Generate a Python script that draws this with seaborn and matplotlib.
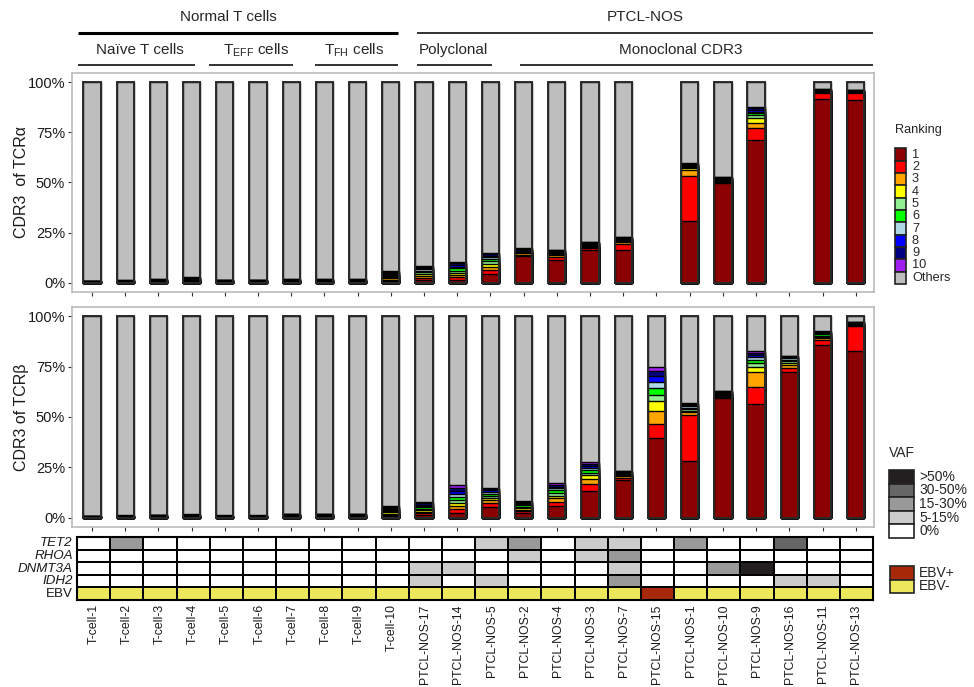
import numpy as np
import pandas as pd
import seaborn as sns
import matplotlib
matplotlib.use("Agg")
import matplotlib.pyplot as plt
from matplotlib.colors import ListedColormap
from matplotlib.patches import Rectangle
from matplotlib.lines import Line2D

nan = np.nan

samples = ["T-cell-1", "T-cell-2", "T-cell-3", "T-cell-4", "T-cell-5", "T-cell-6",
           "T-cell-7", "T-cell-8", "T-cell-9", "T-cell-10",
           "PTCL-NOS-17", "PTCL-NOS-14", "PTCL-NOS-5", "PTCL-NOS-2", "PTCL-NOS-4",
           "PTCL-NOS-3", "PTCL-NOS-7", "PTCL-NOS-15", "PTCL-NOS-1", "PTCL-NOS-10",
           "PTCL-NOS-9", "PTCL-NOS-16", "PTCL-NOS-11", "PTCL-NOS-13"]

rank_labels = ["1", "2", "3", "4", "5", "6", "7", "8", "9", "10", "Others"]
rank_colors = ["#8B0000", "#FF0000", "#FFA500", "#FFFF00", "#90EE90", "#00FF00",
               "#ADD8E6", "#0000FF", "#000080", "#A020F0", "#BEBEBE"]

# CDR3 of TCR alpha: frequency (%) of the top-10 clonotypes per sample
a_r1 = [0.20, 0.25, 0.35, 0.55, 0.30, 0.28, 0.33, 0.36, 0.31, 0.90, 1.5, 1.6, 4.5, 13.3, 11.6, 16.6, 16.6, nan, 30.7, 49.8, 71.0, nan, 91.5, 91.0]
a_r2 = [0.16, 0.18, 0.26, 0.40, 0.22, 0.21, 0.27, 0.25, 0.26, 0.75, 1.2, 1.3, 2.0, 0.8, 1.5, 0.8, 2.8, nan, 22.7, 0.6, 6.0, nan, 3.0, 3.5]
a_r3 = [0.14, 0.16, 0.23, 0.33, 0.19, 0.18, 0.22, 0.22, 0.23, 0.65, 1.0, 1.2, 1.6, 0.6, 0.7, 0.6, 0.8, nan, 2.8, 0.5, 2.8, nan, 0.5, 0.4]
a_r4 = [0.13, 0.14, 0.20, 0.29, 0.17, 0.16, 0.21, 0.20, 0.21, 0.60, 0.9, 1.1, 1.4, 0.5, 0.6, 0.5, 0.6, nan, 1.0, 0.4, 2.5, nan, 0.4, 0.3]
a_r5 = [0.12, 0.13, 0.19, 0.27, 0.16, 0.15, 0.19, 0.19, 0.20, 0.55, 0.8, 1.0, 1.2, 0.5, 0.5, 0.45, 0.5, nan, 0.6, 0.35, 1.2, nan, 0.3, 0.2]
a_r6 = [0.11, 0.12, 0.17, 0.24, 0.15, 0.14, 0.18, 0.18, 0.18, 0.55, 0.8, 1.0, 1.1, 0.4, 0.4, 0.4, 0.45, nan, 0.5, 0.3, 1.0, nan, 0.2, 0.2]
a_r7 = [0.10, 0.11, 0.16, 0.22, 0.14, 0.13, 0.16, 0.16, 0.17, 0.52, 0.7, 0.9, 0.9, 0.4, 0.35, 0.35, 0.4, nan, 0.4, 0.25, 0.8, nan, 0.2, 0.1]
a_r8 = [0.09, 0.11, 0.15, 0.21, 0.13, 0.12, 0.15, 0.15, 0.15, 0.50, 0.6, 0.9, 0.8, 0.35, 0.3, 0.3, 0.35, nan, 0.3, 0.2, 0.8, nan, 0.1, 0.1]
a_r9 = [0.08, 0.10, 0.15, 0.20, 0.12, 0.12, 0.15, 0.15, 0.15, 0.50, 0.6, 0.8, 0.7, 0.3, 0.25, 0.25, 0.3, nan, 0.3, 0.1, 0.8, nan, 0.1, 0.1]
a_r10 = [0.07, 0.10, 0.14, 0.19, 0.12, 0.11, 0.14, 0.14, 0.14, 0.48, 0.5, 0.8, 0.6, 0.25, 0.2, 0.25, 0.2, nan, 0.2, 0.1, 0.8, nan, 0.1, 0.1]

# CDR3 of TCR beta
b_r1 = [0.18, 0.20, 0.28, 0.30, 0.22, 0.19, 0.34, 0.32, 0.36, 0.80, 1.3, 2.3, 5.3, 2.3, 6.1, 13.5, 18.8, 39.5, 28.0, 59.4, 56.5, 72.2, 85.8, 82.5]
b_r2 = [0.15, 0.16, 0.21, 0.22, 0.16, 0.17, 0.26, 0.27, 0.27, 0.70, 0.9, 2.0, 1.9, 0.9, 2.0, 3.3, 1.2, 7.2, 23.1, 0.7, 8.2, 1.9, 2.4, 12.4]
b_r3 = [0.13, 0.14, 0.18, 0.19, 0.13, 0.14, 0.23, 0.23, 0.24, 0.65, 0.8, 1.7, 1.5, 0.8, 1.6, 2.5, 0.6, 6.2, 1.2, 0.5, 7.6, 1.7, 0.8, 0.5]
b_r4 = [0.12, 0.13, 0.16, 0.17, 0.12, 0.13, 0.20, 0.21, 0.22, 0.62, 0.8, 1.6, 1.2, 0.8, 1.4, 1.8, 0.5, 4.8, 0.9, 0.45, 2.6, 0.9, 0.7, 0.4]
b_r5 = [0.11, 0.12, 0.15, 0.16, 0.12, 0.12, 0.19, 0.19, 0.20, 0.60, 0.7, 1.5, 1.0, 0.7, 1.3, 1.3, 0.5, 3.4, 0.8, 0.4, 1.9, 0.8, 0.6, 0.4]
b_r6 = [0.10, 0.11, 0.14, 0.15, 0.11, 0.11, 0.18, 0.18, 0.19, 0.56, 0.7, 1.5, 1.0, 0.7, 1.2, 1.2, 0.4, 3.3, 0.7, 0.4, 1.5, 0.8, 0.6, 0.3]
b_r7 = [0.09, 0.10, 0.13, 0.14, 0.10, 0.10, 0.16, 0.16, 0.17, 0.54, 0.7, 1.4, 0.9, 0.6, 1.0, 1.1, 0.4, 3.0, 0.6, 0.35, 1.3, 0.7, 0.5, 0.2]
b_r8 = [0.08, 0.09, 0.12, 0.13, 0.09, 0.09, 0.15, 0.15, 0.16, 0.52, 0.7, 1.5, 0.8, 0.6, 0.9, 1.1, 0.3, 3.0, 0.6, 0.3, 1.2, 0.5, 0.4, 0.2]
b_r9 = [0.07, 0.08, 0.12, 0.12, 0.08, 0.08, 0.15, 0.15, 0.15, 0.51, 0.6, 1.4, 0.7, 0.6, 0.9, 1.1, 0.3, 2.5, 0.5, 0.25, 1.0, 0.5, 0.3, 0.2]
b_r10 = [0.07, 0.07, 0.11, 0.12, 0.07, 0.07, 0.14, 0.14, 0.14, 0.50, 0.6, 1.4, 0.7, 0.6, 0.8, 1.0, 0.3, 2.0, 0.4, 0.25, 1.0, 0.4, 0.3, 0.1]

# Mutation VAF classes: 0 = 0%, 1 = 5-15%, 2 = 15-30%, 3 = 30-50%, 4 = >50%
genes = ["TET2", "RHOA", "DNMT3A", "IDH2"]
tet2 = [0, 2, 0, 0, 0, 0, 0, 0, 0, 0, 0, 0, 1, 2, 0, 1, 1, 0, 2, 0, 0, 3, 0, 0]
rhoa = [0, 0, 0, 0, 0, 0, 0, 0, 0, 0, 0, 0, 0, 1, 0, 1, 2, 0, 0, 0, 0, 0, 0, 0]
dnmt3a = [0, 0, 0, 0, 0, 0, 0, 0, 0, 0, 1, 1, 0, 0, 0, 0, 1, 0, 0, 2, 4, 0, 0, 0]
idh2 = [0, 0, 0, 0, 0, 0, 0, 0, 0, 0, 1, 0, 1, 0, 0, 0, 2, 0, 0, 0, 0, 1, 1, 0]
ebv = ["EBV-", "EBV-", "EBV-", "EBV-", "EBV-", "EBV-", "EBV-", "EBV-", "EBV-", "EBV-",
       "EBV-", "EBV-", "EBV-", "EBV-", "EBV-", "EBV-", "EBV-", "EBV+", "EBV-", "EBV-",
       "EBV-", "EBV-", "EBV-", "EBV-"]

vaf_labels = [">50%", "30-50%", "15-30%", "5-15%", "0%"]
vaf_colors = ["#231F20", "#666666", "#999999", "#CCCCCC", "#FFFFFF"]
ebv_labels = ["EBV+", "EBV-"]
ebv_colors = ["#A8290A", "#EDE85B"]
ytick_vals = [0, 25, 50, 75, 100]
ytick_labels = ["0%", "25%", "50%", "75%", "100%"]

# ---------------------------------------------------------------- style
sns.set_style("white")
plt.rcParams["font.family"] = ["Liberation Sans", "DejaVu Sans"]
plt.rcParams["mathtext.fontset"] = "custom"
plt.rcParams["mathtext.rm"] = "Liberation Sans"

W, H = 974, 687
fig = plt.figure(figsize=(W / 100, H / 100), dpi=100)


def fx(px):
    return px / W


def fy(py):
    return 1 - py / H


def ax_rect(x0, y0, x1, y1):
    return [fx(x0), fy(y1), (x1 - x0) / W, (y1 - y0) / H]


ax_a = fig.add_axes(ax_rect(72, 73, 874, 292))
ax_b = fig.add_axes(ax_rect(72, 307, 874, 527))
ax_h = fig.add_axes(ax_rect(77, 537, 873, 600))


def stacked(ax, ranks, ylabel):
    freq = pd.DataFrame({f"r{k + 1}": r for k, r in enumerate(ranks)})
    cum = freq.cumsum(axis=1)
    present = freq["r1"].notna()
    others = pd.DataFrame({"sample": samples, "h": np.where(present, 100.0, np.nan)}).dropna()
    sns.barplot(data=others, x="sample", y="h", order=samples, color=rank_colors[10],
                saturation=1, width=0.52, edgecolor="black", linewidth=1.0,
                errorbar=None, ax=ax)
    for k in range(9, -1, -1):
        d = pd.DataFrame({"sample": samples, "h": cum.iloc[:, k]}).dropna()
        sns.barplot(data=d, x="sample", y="h", order=samples, color=rank_colors[k],
                    saturation=1, width=0.52, edgecolor="black", linewidth=1.0,
                    errorbar=None, ax=ax)
    sns.barplot(data=others, x="sample", y="h", order=samples, color="#2A2A2A",
                fill=False, width=0.52, linewidth=1.4, errorbar=None, ax=ax)
    ax.set_xlim(-0.6, 23.55)
    ax.set_ylim(-4.5, 104.5)
    ax.set_yticks(ytick_vals)
    ax.set_yticklabels(ytick_labels, fontsize=10.5, color="#1A1A1A")
    ax.set_xticks(range(len(samples)))
    ax.set_xticklabels([])
    ax.set_xlabel("")
    ax.set_ylabel(ylabel, fontsize=11.5, color="#1A1A1A")
    ax.tick_params(axis="both", length=3, width=0.8, color="#333333", pad=2,
                   bottom=True, left=True)
    for s in ax.spines.values():
        s.set_visible(True)
        s.set_color("#B5B5B5")
        s.set_linewidth(1.1)


stacked(ax_a, [a_r1, a_r2, a_r3, a_r4, a_r5, a_r6, a_r7, a_r8, a_r9, a_r10], "CDR3  of TCR\u03b1")
stacked(ax_b, [b_r1, b_r2, b_r3, b_r4, b_r5, b_r6, b_r7, b_r8, b_r9, b_r10], "CDR3 of TCR\u03b2")
ax_a.yaxis.set_label_coords(-0.053, 0.5)
ax_b.yaxis.set_label_coords(-0.053, 0.5)

# ---------------------------------------------------------------- heatmap
ebv_code = [5 if e == "EBV-" else 6 for e in ebv]
hm = pd.DataFrame([tet2, rhoa, dnmt3a, idh2, ebv_code], index=genes + ["EBV"], columns=samples)
cmap = ListedColormap(["#FFFFFF", "#CCCCCC", "#999999", "#666666", "#231F20",
                       ebv_colors[1], ebv_colors[0]])
sns.heatmap(hm, cmap=cmap, vmin=-0.5, vmax=6.5, cbar=False, linewidths=1.2,
            linecolor="black", xticklabels=True, yticklabels=True, ax=ax_h)
for s in ax_h.spines.values():
    s.set_visible(True)
    s.set_color("black")
    s.set_linewidth(1.5)
ax_h.set_xlabel("")
ax_h.set_ylabel("")
ax_h.set_yticks(np.arange(len(genes) + 1) + 0.5)
ax_h.set_yticklabels(genes + ["EBV"], rotation=0, fontsize=9.6, color="#1A1A1A")
for t in ax_h.get_yticklabels()[:4]:
    t.set_fontstyle("italic")
ax_h.set_xticks(np.arange(len(samples)) + 0.5)
ax_h.set_xticklabels(samples, rotation=90, fontsize=8.8, color="#1A1A1A")
ax_h.tick_params(axis="both", length=0, pad=3)

# ---------------------------------------------------------------- headers
def hline(x0, x1, y, lw, color="black"):
    fig.add_artist(Line2D([fx(x0), fx(x1)], [fy(y), fy(y)], transform=fig.transFigure,
                          color=color, lw=lw, solid_capstyle="butt"))


fig.text(fx(228), fy(17), "Normal T cells", ha="center", va="center", fontsize=11)
fig.text(fx(645), fy(17), "PTCL-NOS", ha="center", va="center", fontsize=11)
hline(78, 398, 33, 2.2, "black")
hline(417, 873, 33, 1.4, "#333333")
fig.text(fx(140), fy(50), "Na\u00efve T cells", ha="center", va="center", fontsize=11)
fig.text(fx(256), fy(50), r"T$_{\mathregular{EFF}}$ cells", ha="center", va="center", fontsize=11)
fig.text(fx(354), fy(50), r"T$_{\mathregular{FH}}$ cells", ha="center", va="center", fontsize=11)
fig.text(fx(453), fy(50), "Polyclonal", ha="center", va="center", fontsize=11)
fig.text(fx(681), fy(50), "Monoclonal CDR3", ha="center", va="center", fontsize=11)
for x0, x1 in [(78, 195), (209, 293), (315, 398), (417, 492), (520, 873)]:
    hline(x0, x1, 65, 1.3, "#222222")

# ---------------------------------------------------------------- legends
def box(x, y, w, h, fc, ec="#222222", lw=1.2):
    fig.add_artist(Rectangle((fx(x), fy(y + h)), w / W, h / H, transform=fig.transFigure,
                             facecolor=fc, edgecolor=ec, linewidth=lw))


fig.text(fx(895), fy(130), "Ranking", ha="left", va="center", fontsize=9.2)
for i, (lab, col) in enumerate(zip(rank_labels, rank_colors)):
    y = 148.5 + i * 12.3
    box(895, y, 11, 12.3, col)
    fig.text(fx(912), fy(y + 6.2), lab, ha="left", va="center", fontsize=9.2)

fig.text(fx(889), fy(453), "VAF", ha="left", va="center", fontsize=10)
for i, (lab, col) in enumerate(zip(vaf_labels, vaf_colors)):
    y = 470 + i * 13.6
    box(889, y, 25, 13.6, col)
    fig.text(fx(919), fy(y + 6.8), lab, ha="left", va="center", fontsize=10)

for i, (lab, col) in enumerate(zip(ebv_labels, ebv_colors)):
    y = 566 + i * 13.6
    box(890, y, 24, 13.6, col)
    fig.text(fx(919), fy(y + 6.8), lab, ha="left", va="center", fontsize=10)

fig.savefig("out.png", dpi=100)
